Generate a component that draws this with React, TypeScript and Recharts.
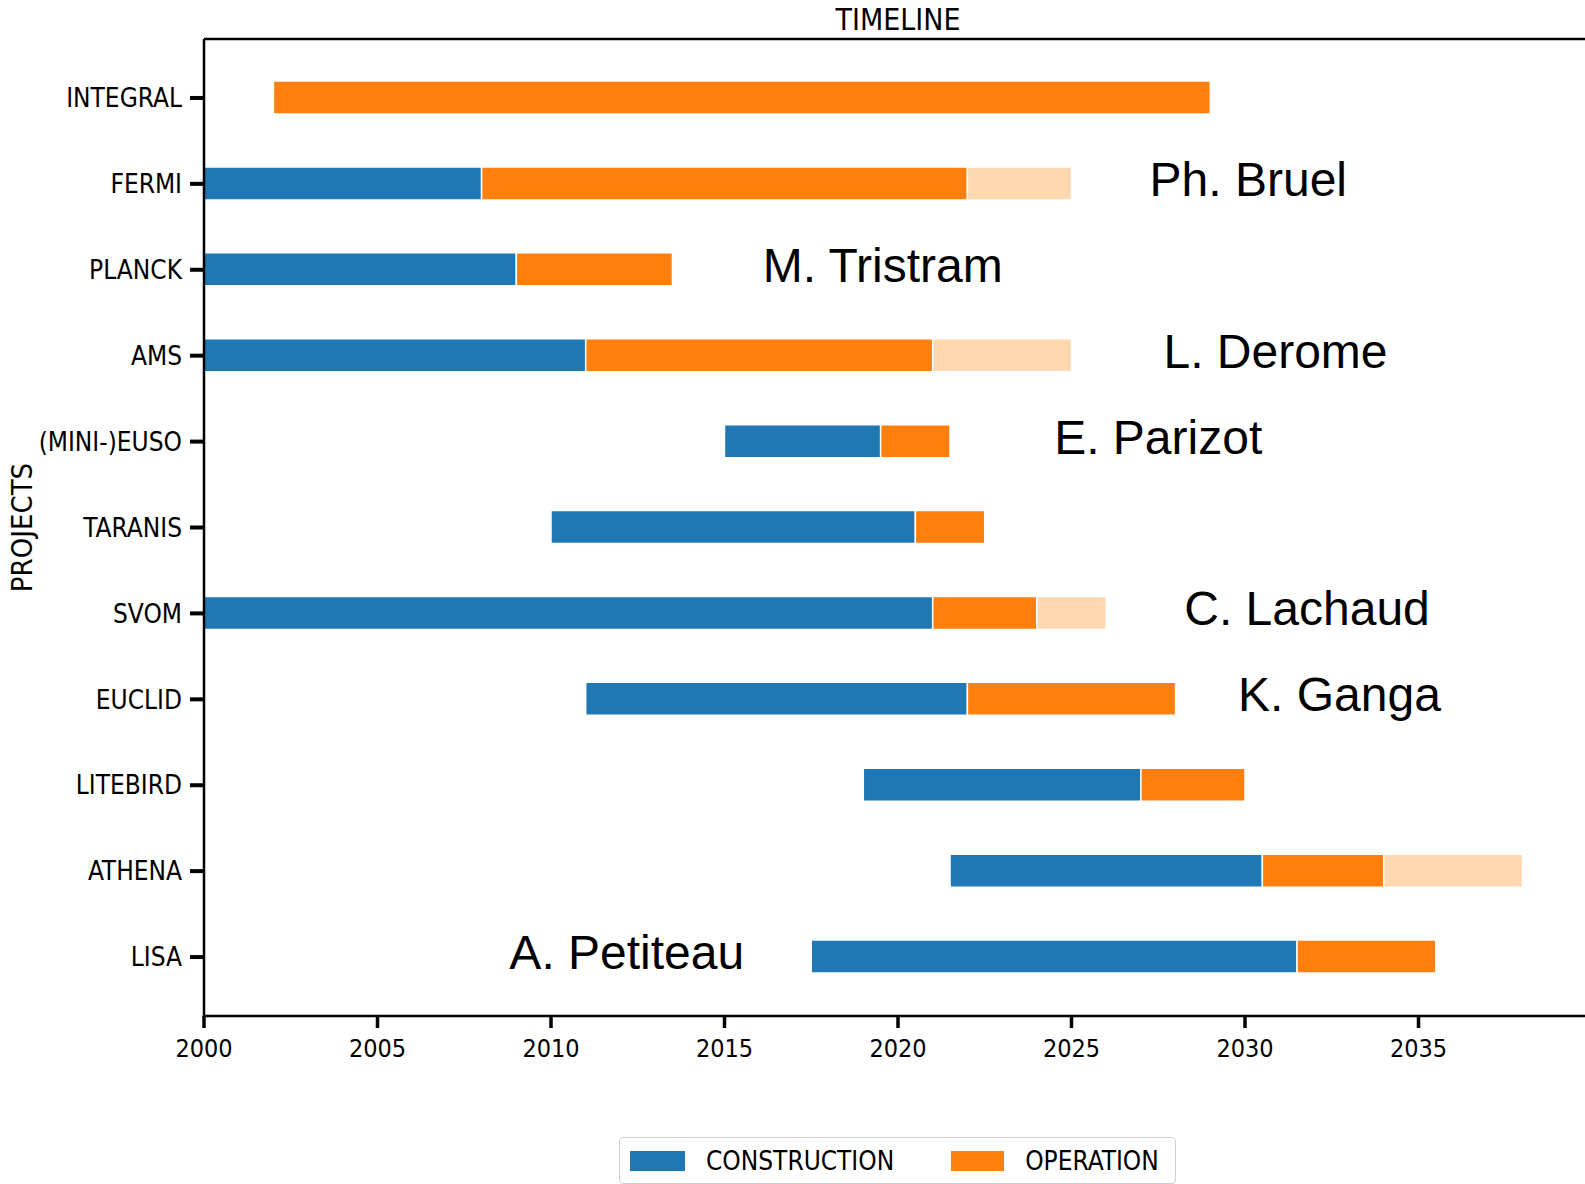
import React from 'react';
import { BarChart, Bar, XAxis, YAxis, Legend, ReferenceDot } from 'recharts';

const projects = ['INTEGRAL', 'FERMI', 'PLANCK', 'AMS', '(MINI-)EUSO', 'TARANIS', 'SVOM', 'EUCLID', 'LITEBIRD', 'ATHENA', 'LISA'];
const constructionStart = [2002, 2000, 2000, 2000, 2015, 2010, 2000, 2011, 2019, 2021.5, 2017.5];
const operationStart = [2002, 2008, 2009, 2011, 2019.5, 2020.5, 2021, 2022, 2027, 2030.5, 2031.5];
const operationEnd = [2029, 2022, 2013.5, 2021, 2021.5, 2022.5, 2024, 2028, 2030, 2034, 2035.5];
const extensionEnd = [2029, 2025, 2013.5, 2025, 2021.5, 2022.5, 2026, 2028, 2030, 2038, 2035.5];

const yearTicks = [2000, 2005, 2010, 2015, 2020, 2025, 2030, 2035];

const annotationNames = ['Ph. Bruel', 'M. Tristram', 'L. Derome', 'E. Parizot', 'C. Lachaud', 'K. Ganga', 'A. Petiteau'];
const annotationProjects = ['FERMI', 'PLANCK', 'AMS', '(MINI-)EUSO', 'SVOM', 'EUCLID', 'LISA'];
const annotationYears = [2027.25, 2016.1, 2027.65, 2024.5, 2028.25, 2029.8, 2008.8];

const legendLabels = ['CONSTRUCTION', 'OPERATION'];

const BLUE = '#1f77b4';
const ORANGE = '#ff7f0e';
const PEACH = '#fed8b1';
const HAND = "'DejaVu Sans Condensed', 'DejaVu Sans', sans-serif";

const data = projects.map((p, i) => ({
  project: p,
  base: constructionStart[i],
  construction: operationStart[i] - constructionStart[i],
  operation: operationEnd[i] - operationStart[i],
  extension: extensionEnd[i] - operationEnd[i],
}));

const annotations = annotationNames.map((n, i) => ({ name: n, project: annotationProjects[i], year: annotationYears[i] }));

const NAME_FS = 48;

const LegendBox = () => (
  <div
    style={{
      boxSizing: 'border-box',
      width: 557,
      height: 47,
      border: '1.5px solid #d0d0d0',
      borderRadius: 4,
      background: '#fff',
      display: 'flex',
      alignItems: 'center',
      paddingLeft: 10,
      fontFamily: HAND,
      fontSize: 26,
      color: '#000',
      whiteSpace: 'nowrap',
    }}
  >
    <span style={{ display: 'inline-block', width: 55, height: 20, background: BLUE, marginRight: 21 }} />
    <span style={{ marginRight: 57 }}>{legendLabels[0]}</span>
    <span style={{ display: 'inline-block', width: 53, height: 20, background: ORANGE, marginRight: 21 }} />
    <span>{legendLabels[1]}</span>
  </div>
);

export default function App() {
  return (
    <div style={{ position: 'absolute', left: 0, top: 0, width: 1585, height: 1184, overflow: 'hidden', background: '#fff' }}>
      <BarChart
        width={1600}
        height={1184}
        data={data}
        layout="vertical"
        margin={{ top: 0, right: 8, bottom: 108, left: 0 }}
      >
        <XAxis
          xAxisId="top"
          orientation="top"
          type="number"
          domain={[2000, 2040]}
          allowDataOverflow
          height={39}
          tick={false}
          tickLine={false}
          axisLine={{ stroke: '#000', strokeWidth: 2.5 }}
          label={{ value: 'TIMELINE', position: 'center', fill: '#000', fontSize: 30, fontFamily: HAND }}
        />
        <XAxis
          xAxisId="bottom"
          type="number"
          domain={[2000, 2040]}
          allowDataOverflow
          ticks={yearTicks}
          height={60}
          tickSize={12}
          tickMargin={11}
          tickLine={{ stroke: '#000', strokeWidth: 3.5 }}
          axisLine={{ stroke: '#000', strokeWidth: 2.5 }}
          tick={{ fill: '#000', fontSize: 25, fontFamily: HAND }}
        />
        <YAxis
          type="category"
          dataKey="project"
          width={204}
          interval={0}
          padding={{ top: 16, bottom: 16 }}
          tickSize={14}
          tickMargin={8}
          tickLine={{ stroke: '#000', strokeWidth: 4 }}
          axisLine={{ stroke: '#000', strokeWidth: 2.5 }}
          tick={{ fill: '#000', fontSize: 26, fontFamily: HAND }}
          label={{ value: 'PROJECTS', angle: -90, position: 'insideLeft', offset: 22, fill: '#000', fontSize: 29, fontFamily: HAND, textAnchor: 'middle' }}
        />
        <Bar xAxisId="bottom" dataKey="base" stackId="a" fill="transparent" barSize={33} isAnimationActive={false} legendType="none" />
        <Bar xAxisId="bottom" dataKey="construction" stackId="a" fill={BLUE} stroke="#fff" strokeWidth={1.5} barSize={33} isAnimationActive={false} />
        <Bar xAxisId="bottom" dataKey="operation" stackId="a" fill={ORANGE} stroke="#fff" strokeWidth={1.5} barSize={33} isAnimationActive={false} />
        <Bar xAxisId="bottom" dataKey="extension" stackId="a" fill={PEACH} stroke="#fff" strokeWidth={1.5} barSize={33} isAnimationActive={false} legendType="none" />
        {annotations.map((a) => (
          <ReferenceDot
            key={a.name}
            xAxisId="bottom"
            x={a.year}
            y={a.project}
            r={0}
            fill="none"
            stroke="none"
            label={(props: any) => {
              const vb = props.viewBox || {};
              return (
                <text
                  x={vb.x}
                  y={vb.y + NAME_FS * 0.355 - 5}
                  fontSize={NAME_FS}
                  fontFamily="'Liberation Sans', Arial, sans-serif"
                  fill="#000"
                >
                  {a.name}
                </text>
              );
            }}
          />
        ))}
        <Legend
          verticalAlign="middle"
          align="center"
          content={() => <LegendBox />}
          wrapperStyle={{ position: 'absolute', left: 619, top: 1137, width: 557, height: 47 }}
        />
      </BarChart>
    </div>
  );
}
